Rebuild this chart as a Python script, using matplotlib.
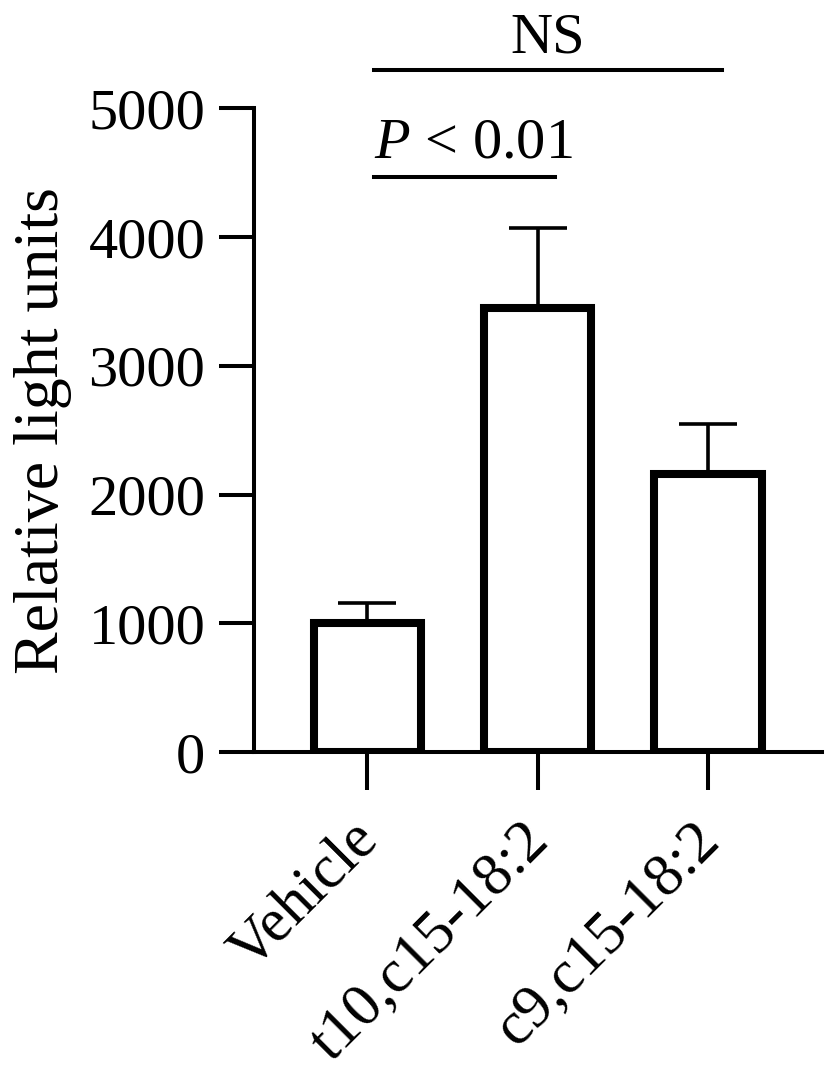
import matplotlib
matplotlib.use("Agg")
import matplotlib.pyplot as plt
import matplotlib.transforms as mtransforms
import numpy as np

# values
groups = ["Vehicle", "t10,c15-18:2", "c9,c15-18:2"]
means = [1000, 3450, 2160]
errors = [157, 620, 390]
y_ticks = [0, 1000, 2000, 3000, 4000, 5000]

plt.rcParams["font.family"] = ["Liberation Serif", "DejaVu Serif"]
plt.rcParams["mathtext.fontset"] = "custom"
plt.rcParams["mathtext.rm"] = "Liberation Serif"
plt.rcParams["mathtext.it"] = "Liberation Serif:italic"

fig = plt.figure(figsize=(8.34, 10.83), dpi=100)
ax = fig.add_axes([0.3046, 0.3056, 0.681, 0.5944])

x = np.arange(len(groups))
ax.bar(x, means, width=0.63, color="white", edgecolor="black",
       linewidth=5.8, joinstyle="miter", zorder=3)
ax.errorbar(x, means, yerr=[np.zeros(len(errors)), errors], fmt="none",
            ecolor="black", elinewidth=2.6, capsize=21, capthick=2.6, zorder=2)

ax.set_xlim(-0.665, 2.67)
ax.set_ylim(0, 5000)
ax.set_yticks(y_ticks)
ax.set_xticks(x)
ax.set_xticklabels(groups, rotation=45, ha="right", rotation_mode="anchor")

for side in ["top", "right"]:
    ax.spines[side].set_visible(False)
for side in ["left", "bottom"]:
    ax.spines[side].set_linewidth(2.9)

ax.tick_params(axis="y", length=25, width=2.9, pad=10, labelsize=42)
ax.tick_params(axis="x", length=27, width=2.9, pad=16, labelsize=44)
ax.set_ylabel("Relative light units", fontsize=46, labelpad=12)

# nudge the slanted labels left like the original
shift = mtransforms.ScaledTranslation(-0.17, 0.0, fig.dpi_scale_trans)
for label in ax.get_xticklabels():
    label.set_transform(label.get_transform() + shift)

# significance bars
ax.plot([0.04, 1.1], [4470, 4470], color="black", lw=2.9, clip_on=False)
ax.text(0.04, 4620, r"$P$ < 0.01", fontsize=42, ha="left", va="baseline")
ax.plot([0.04, 2.08], [5300, 5300], color="black", lw=2.9, clip_on=False)
ax.text(1.06, 5430, "NS", fontsize=42, ha="center", va="baseline")

fig.savefig("out.png", dpi=100)
